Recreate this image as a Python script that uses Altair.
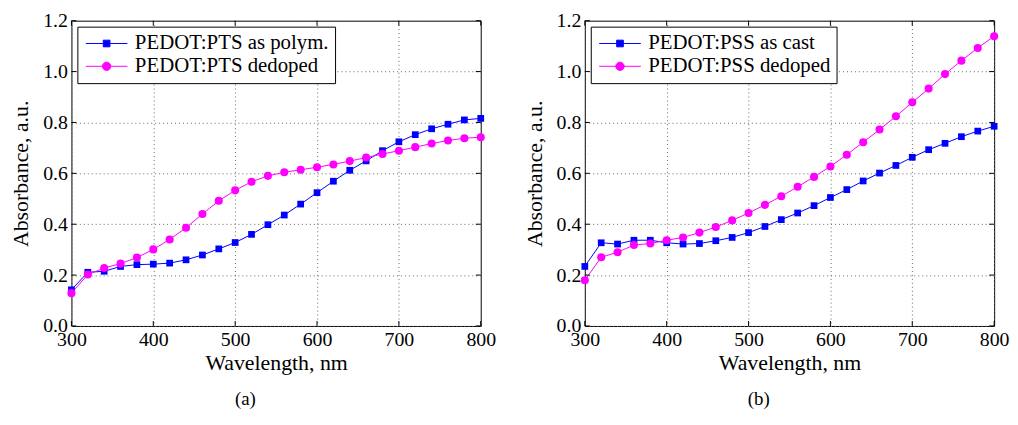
import altair as alt
import pandas as pd

# ---------------- data ----------------
wavelength = [300, 320, 340, 360, 380, 400, 420, 440, 460, 480, 500, 520, 540,
              560, 580, 600, 620, 640, 660, 680, 700, 720, 740, 760, 780, 800]

pts_as_polym = [0.142, 0.211, 0.215, 0.234, 0.241, 0.243, 0.247, 0.260, 0.279,
                0.303, 0.328, 0.360, 0.398, 0.436, 0.479, 0.524, 0.569, 0.612,
                0.649, 0.689, 0.724, 0.752, 0.775, 0.793, 0.810, 0.816]
pts_dedoped = [0.129, 0.202, 0.228, 0.245, 0.269, 0.301, 0.340, 0.386, 0.440,
               0.492, 0.533, 0.567, 0.590, 0.604, 0.614, 0.624, 0.635, 0.648,
               0.662, 0.676, 0.689, 0.703, 0.717, 0.729, 0.738, 0.742]

pss_as_cast = [0.234, 0.327, 0.322, 0.337, 0.337, 0.327, 0.322, 0.324, 0.335,
               0.348, 0.367, 0.391, 0.418, 0.444, 0.473, 0.505, 0.536, 0.570,
               0.601, 0.631, 0.663, 0.693, 0.718, 0.744, 0.766, 0.785]
pss_dedoped = [0.180, 0.270, 0.290, 0.318, 0.324, 0.337, 0.348, 0.367, 0.389,
               0.415, 0.444, 0.476, 0.510, 0.547, 0.586, 0.627, 0.673, 0.722,
               0.772, 0.824, 0.879, 0.933, 0.990, 1.043, 1.093, 1.139]

names_a = ["PEDOT:PTS as polym.", "PEDOT:PTS dedoped"]
names_b = ["PEDOT:PSS as cast", "PEDOT:PSS dedoped"]
captions = ["(a)", "(b)"]

x_ticks = [300, 400, 500, 600, 700, 800]
y_ticks = [0.0, 0.2, 0.4, 0.6, 0.8, 1.0, 1.2]

# ---------------- styling ----------------
FONT = "Liberation Serif"
W, H = 413, 308
BLUE, MAGENTA = "#0000ff", "#ff00ff"
TICK = 5

# legend symbols: a line segment with the marker in its middle
SQ_PATH = "M-1,0H1M-0.16,-0.16H0.16V0.16H-0.16Z"
CI_PATH = "M-1,0H1M0.2,0A0.2,0.2,0,1,1,-0.2,0A0.2,0.2,0,1,1,0.2,0Z"


def panel(s1, s2, names, caption):
    df = pd.DataFrame({
        "wl": wavelength * 2,
        "abs": s1 + s2,
        "series": [names[0]] * len(wavelength) + [names[1]] * len(wavelength),
    })
    x = alt.X("wl:Q", scale=alt.Scale(domain=[300, 800], nice=False, zero=False),
              axis=alt.Axis(values=x_ticks, format="d", title="Wavelength, nm"))
    y = alt.Y("abs:Q", scale=alt.Scale(domain=[0, 1.2], nice=False),
              axis=alt.Axis(values=y_ticks, format=".1f", title="Absorbance, a.u."))

    base = alt.Chart(df).encode(x=x, y=y)
    s_a = base.transform_filter(alt.datum.series == names[0])
    s_b = base.transform_filter(alt.datum.series == names[1])
    layers = [
        s_a.mark_line(strokeWidth=1, color=BLUE),
        s_b.mark_line(strokeWidth=1, color=MAGENTA),
        s_a.mark_point(shape="square", filled=True, size=46, opacity=1, color=BLUE),
        s_b.mark_point(shape="circle", filled=True, size=66, opacity=1, color=MAGENTA),
    ]

    # legend-only layer: no rows survive the filter, the scales carry the domain
    cscale = alt.Scale(domain=names, range=[BLUE, MAGENTA])
    leg = alt.Legend(title=None, orient="top-left")
    legend_layer = base.transform_filter(alt.datum.wl < 0).mark_point(
        filled=True, opacity=1, strokeWidth=1).encode(
        fill=alt.Fill("series:N", scale=cscale, legend=leg),
        stroke=alt.Stroke("series:N", scale=cscale, legend=leg),
        shape=alt.Shape("series:N", scale=alt.Scale(domain=names, range=[SQ_PATH, CI_PATH]),
                        legend=leg),
    )

    # inward tick marks on all four sides
    xt = alt.Chart(pd.DataFrame({"wl": x_ticks})).mark_rule(color="black", strokeWidth=1)
    yt = alt.Chart(pd.DataFrame({"abs": y_ticks})).mark_rule(color="black", strokeWidth=1)
    ticks = [
        xt.encode(x=x, y=alt.value(H), y2=alt.value(H - TICK)),
        xt.encode(x=x, y=alt.value(0), y2=alt.value(TICK)),
        yt.encode(y=y, x=alt.value(0), x2=alt.value(TICK)),
        yt.encode(y=y, x=alt.value(W), x2=alt.value(W - TICK)),
    ]

    return alt.layer(*layers, legend_layer, *ticks).properties(
        width=W, height=H,
        title=alt.TitleParams(caption, orient="bottom", font=FONT, fontSize=19,
                              fontWeight="normal", color="black", offset=17, dx=-31),
    )


chart = alt.hconcat(
    panel(pts_as_polym, pts_dedoped, names_a, captions[0]),
    panel(pss_as_cast, pss_dedoped, names_b, captions[1]),
    spacing=26,
).resolve_scale(
    fill="independent", stroke="independent", shape="independent",
    x="independent", y="independent",
).resolve_legend(
    fill="independent", stroke="independent", shape="independent",
).properties(
    padding={"left": 1, "top": 0, "right": 0, "bottom": 0}
).configure_view(
    stroke="black", strokeWidth=1
).configure_axis(
    labelFont=FONT, labelFontSize=20, labelColor="black", labelPadding=4,
    labelFlush=False, labelOverlap=False,
    titleFont=FONT, titleFontSize=22, titleFontWeight="normal", titleColor="black",
    ticks=False, domain=False,
    grid=True, gridColor="#666666", gridDash=[1, 3], gridOpacity=1, gridWidth=1,
).configure_axisY(
    titlePadding=10
).configure_axisX(
    titlePadding=3
).configure_legend(
    offset=6, padding=6, fillColor="white", strokeColor="black", strokeWidth=1,
    labelFont=FONT, labelFontSize=21, labelColor="black", labelOffset=7, labelLimit=0,
    symbolSize=1764, symbolOffset=2, symbolStrokeWidth=1, symbolOpacity=1,
    clipHeight=22, rowPadding=1, cornerRadius=0,
)

chart.save("out.html", embed_options={"renderer": "svg", "actions": False})
